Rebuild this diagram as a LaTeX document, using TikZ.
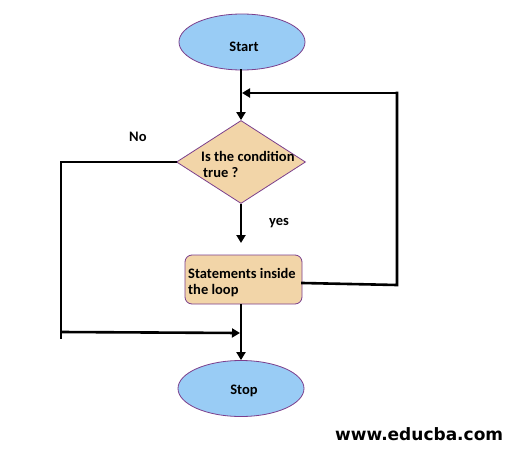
\documentclass[tikz,border=0pt]{standalone}
\usepackage{fontspec}
\setmainfont{Carlito}
\newfontfamily\webfont{DejaVu Sans}
\usetikzlibrary{shapes.geometric,arrows.meta}
\definecolor{termblue}{HTML}{99CCF5}
\definecolor{procfill}{HTML}{F2D5A8}
\definecolor{edgepurple}{HTML}{7B3F8C}
\begin{document}
\begin{tikzpicture}[x=1pt,y=-1pt,
  term/.style={ellipse,draw=edgepurple,fill=termblue,line width=0.8pt,minimum width=126pt,minimum height=56pt,inner sep=0pt},
  decision/.style={diamond,draw=edgepurple,fill=procfill,line width=0.8pt,minimum width=129pt,minimum height=83pt,inner sep=0pt},
  procbox/.style={rectangle,rounded corners=7pt,draw=edgepurple,fill=procfill,line width=0.8pt,minimum width=117pt,minimum height=49pt,inner sep=0pt},
  lbl/.style={font=\fontsize{14.5}{16}\selectfont\bfseries,inner sep=0pt,anchor=base west},
  flow/.style={line width=2.6pt,-{Triangle[length=8pt,width=9pt]}},
  plain/.style={line width=2.6pt,line cap=rect}]
\useasboundingbox (0,0) rectangle (520,453);
\fill[white] (0,0) rectangle (520,453);
% shapes
\node[term] (start) at (242,42) {};
\node[decision] (dec) at (241,162) {};
\node[procbox] (proc) at (243.5,279.5) {};
\node[term] (stop) at (241,388.5) {};
% texts
\node[lbl,anchor=base] (starttxt) at (244,51) {Start};
\node[lbl] (dectxt1) at (201,161) {Is the condition};
\node[lbl] (dectxt2) at (203,177) {true ?};
\node[lbl] (proctxt1) at (188,278) {Statements inside};
\node[lbl] (proctxt2) at (188,294) {the loop};
\node[lbl,anchor=base] (stoptxt) at (244,394) {Stop};
\node[lbl] (yestxt) at (269,225) {yes};
\node[lbl] (notxt) at (129,141) {No};
\node[font=\webfont\fontsize{17}{19}\selectfont\bfseries,inner sep=0pt,anchor=base west] (web) at (335,440) {www.educba.com};
% connectors
\draw[flow] (241,69) -- (dec.north);
\draw[flow] (dec.south) -- (241,243);
\draw[flow] (241,304) -- (stop.north);
\coordinate (loopR) at (397,285);
\coordinate (loopT) at (397,93);
\coordinate (loopIn) at (242,93);
\draw[plain] ([yshift=-3.5pt]proc.east) -- (loopR) -- (loopT);
\draw[flow] (loopT) -- (loopIn);
\coordinate (noL) at (61,162);
\coordinate (noB) at (61,338);
\coordinate (noC) at (61,332);
\coordinate (merge) at (240,333);
\draw[plain] (dec.west) -- (noL) -- (noB);
\draw[flow] (noC) -- (merge);
\end{tikzpicture}
\end{document}
